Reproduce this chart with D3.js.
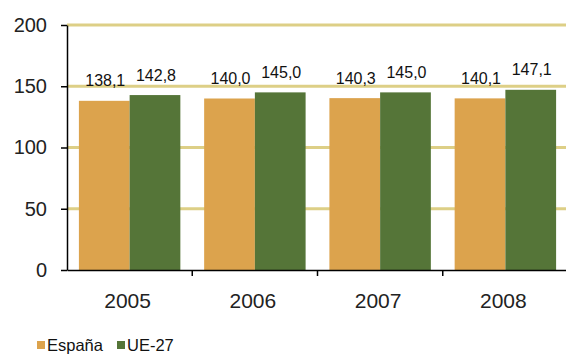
<!DOCTYPE html>
<html><head><meta charset="utf-8">
<script src="https://cdn.jsdelivr.net/npm/d3@7"></script>
<style>body{margin:0;background:#fff}svg{display:block;font-family:Arial,"Liberation Sans",sans-serif}</style>
</head><body><svg id="c" width="566" height="356"></svg>
<script>
const years = ["2005","2006","2007","2008"];
const seriesNames = ["España","UE-27"];
const espana = [138.1, 140.0, 140.3, 140.1];
const ue27 = [142.8, 145.0, 145.0, 147.1];
const yTicks = [0,50,100,150,200];
const colors = ["#DCA34D","#557538"];
const gridColor = "#DDCF86";
const FONT = "Arial,'Liberation Sans',sans-serif";

const svg = d3.select("#c");
const xb = d3.scaleBand().domain(years).range([67,568]);
const x0 = d3.scaleBand().domain(years).range([67,568]).paddingInner(0.19).paddingOuter(0.095);
const x1 = d3.scaleBand().domain(seriesNames).range([0,x0.bandwidth()]);
const y = d3.scaleLinear().domain([0,200]).range([270,25]);
const fmt = v => d3.format(".1f")(v).replace(".",",");

// gridlines
svg.append("g").selectAll("line").data(yTicks.filter(d=>d>0)).join("line")
  .attr("x1",67).attr("x2",566).attr("y1",d=>y(d)).attr("y2",d=>y(d))
  .attr("stroke",gridColor).attr("stroke-width",3);

const data = years.map((yr,i)=>({year:yr, vals:[{s:"España",v:espana[i]},{s:"UE-27",v:ue27[i]}]}));
const g = svg.append("g").selectAll("g").data(data).join("g")
  .attr("transform",d=>`translate(${x0(d.year)},0)`);
g.selectAll("rect").data(d=>d.vals).join("rect")
  .attr("x",d=>x1(d.s)).attr("width",x1.bandwidth())
  .attr("y",d=>y(d.v)).attr("height",d=>y(0)-y(d.v))
  .attr("fill",(d,i)=>colors[i]);
g.selectAll("text").data(d=>d.vals).join("text")
  .attr("x",d=>x1(d.s)+x1.bandwidth()/2+1).attr("y",d=>y(d.v)-14.5)
  .attr("text-anchor","middle").attr("font-size",16).attr("fill","#111")
  .text(d=>fmt(d.v));

// y axis
const ya = svg.append("g").attr("transform","translate(67,0)")
  .call(d3.axisLeft(y).tickValues(yTicks).tickSize(6).tickPadding(14).tickSizeOuter(0));
ya.select(".domain").attr("stroke","#000").attr("stroke-width",1.5);
ya.selectAll(".tick line").attr("stroke","#000").attr("stroke-width",1.5);
ya.selectAll(".tick text").attr("font-size",20).attr("fill","#222").attr("font-family",FONT);

// x axis
const xa = svg.append("g").attr("transform","translate(0,270)")
  .call(d3.axisBottom(xb).tickSize(0).tickPadding(23).tickSizeOuter(0));
xa.select(".domain").attr("stroke","#000").attr("stroke-width",1.5);
xa.selectAll(".tick text").attr("font-size",21).attr("fill","#222").attr("font-family",FONT)
  .attr("dx",-2);
svg.append("g").selectAll("line").data(years.slice(1)).join("line")
  .attr("x1",d=>xb(d)).attr("x2",d=>xb(d)).attr("y1",270).attr("y2",276)
  .attr("stroke","#000").attr("stroke-width",1.5);

// legend
const lg = svg.append("g").attr("transform","translate(37,340)");
const lx = [0,80];
seriesNames.forEach((s,i)=>{
  lg.append("rect").attr("x",lx[i]).attr("y",1).attr("width",8).attr("height",8).attr("fill",colors[i]);
  lg.append("text").attr("x",lx[i]+10).attr("y",11).attr("font-size",16.5).attr("fill","#111").text(s);
});
</script></body></html>
